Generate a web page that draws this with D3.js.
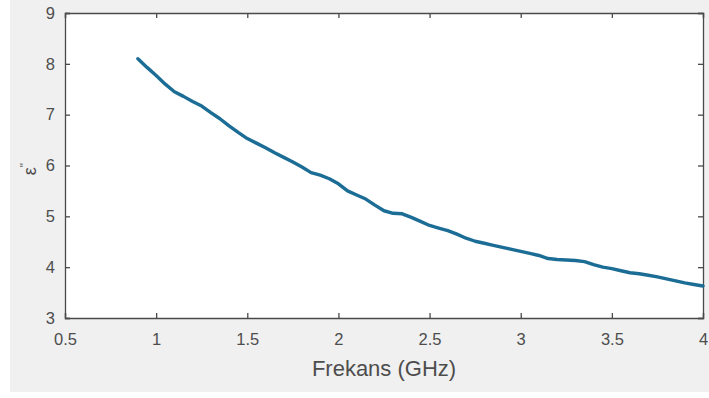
<!DOCTYPE html>
<html>
<head>
<meta charset="utf-8">
<script src="https://cdn.jsdelivr.net/npm/d3@7/dist/d3.min.js"></script>
<style>
  html, body { margin: 0; padding: 0; background: #ffffff; }
  svg { display: block; }
  text { font-family: "Liberation Sans", Arial, Helvetica, sans-serif; }
</style>
</head>
<body>
<svg id="chart" width="709" height="398"></svg>
<script>
// ---- data ----
const freqGHz = [0.9, 0.95, 1.0, 1.05, 1.1, 1.15, 1.2, 1.25, 1.3, 1.35, 1.4, 1.45, 1.5, 1.55, 1.6, 1.65, 1.7, 1.75, 1.8, 1.85, 1.9, 1.95, 2.0, 2.05, 2.1, 2.15, 2.2, 2.25, 2.3, 2.35, 2.4, 2.45, 2.5, 2.55, 2.6, 2.65, 2.7, 2.75, 2.8, 2.85, 2.9, 2.95, 3.0, 3.05, 3.1, 3.15, 3.2, 3.25, 3.3, 3.35, 3.4, 3.45, 3.5, 3.55, 3.6, 3.65, 3.7, 3.75, 3.8, 3.85, 3.9, 3.95, 4.0];
const epsImag = [8.10, 7.93, 7.77, 7.60, 7.45, 7.36, 7.26, 7.17, 7.04, 6.92, 6.78, 6.65, 6.53, 6.44, 6.35, 6.25, 6.16, 6.07, 5.97, 5.86, 5.81, 5.74, 5.64, 5.50, 5.42, 5.34, 5.22, 5.11, 5.06, 5.05, 4.98, 4.90, 4.82, 4.77, 4.72, 4.65, 4.57, 4.51, 4.47, 4.43, 4.39, 4.35, 4.31, 4.27, 4.23, 4.17, 4.15, 4.14, 4.13, 4.11, 4.05, 4.00, 3.97, 3.93, 3.89, 3.87, 3.84, 3.81, 3.77, 3.73, 3.69, 3.66, 3.63];
const xTicks = [0.5, 1, 1.5, 2, 2.5, 3, 3.5, 4];
const yTicks = [3, 4, 5, 6, 7, 8, 9];
const xDomain = [0.5, 4];
const yDomain = [3, 9];
const xLabel = "Frekans (GHz)";

// ---- layout ----
const svg = d3.select("#chart");
const L = 65, R = 703, T = 13, B = 318;
const axisColor = "#4a4a4a";
const textColor = "#4d4d4d";

svg.append("rect").attr("x", 10).attr("y", 0).attr("width", 699).attr("height", 392).attr("fill", "#f0f0f0");
svg.append("rect").attr("x", L).attr("y", T).attr("width", R - L).attr("height", B - T).attr("fill", "#ffffff");

const x = d3.scaleLinear().domain(xDomain).range([L, R]);
const y = d3.scaleLinear().domain(yDomain).range([B, T]);

const fmt = d => String(d);

// bottom axis
const gx = svg.append("g").attr("transform", `translate(0,${B})`)
  .call(d3.axisBottom(x).tickValues(xTicks).tickSize(-5).tickPadding(15).tickFormat(fmt));
// top axis (ticks only)
const gxt = svg.append("g").attr("transform", `translate(0,${T})`)
  .call(d3.axisTop(x).tickValues(xTicks).tickSize(-5).tickFormat(""));
// left axis
const gy = svg.append("g").attr("transform", `translate(${L},0)`)
  .call(d3.axisLeft(y).tickValues(yTicks).tickSize(-5).tickPadding(10).tickFormat(fmt));
// right axis (ticks only)
const gyr = svg.append("g").attr("transform", `translate(${R},0)`)
  .call(d3.axisRight(y).tickValues(yTicks).tickSize(-5).tickFormat(""));

[gx, gxt, gy, gyr].forEach(g => {
  g.select(".domain").attr("stroke", axisColor).attr("stroke-width", 1.3);
  g.selectAll(".tick line").attr("stroke", axisColor).attr("stroke-width", 1.3);
  g.selectAll(".tick text").attr("fill", textColor).attr("font-size", 16.5)
    .attr("font-family", '"Liberation Sans", Arial, sans-serif');
});

// data line
const line = d3.line().x((d, i) => x(freqGHz[i])).y(d => y(d));
svg.append("path").datum(epsImag)
  .attr("d", line)
  .attr("fill", "none")
  .attr("stroke", "#1c6d95")
  .attr("stroke-width", 3.4)
  .attr("stroke-linejoin", "round")
  .attr("stroke-linecap", "round");

// x label
svg.append("text").attr("x", 384).attr("y", 376)
  .attr("text-anchor", "middle").attr("font-size", 22).attr("fill", textColor)
  .text(xLabel);

// y label: epsilon double-prime
const yl = svg.append("text")
  .attr("transform", `translate(36,169) rotate(-90)`)
  .attr("text-anchor", "middle").attr("font-size", 18).attr("fill", textColor);
yl.append("tspan").text("\u03B5");
yl.append("tspan").attr("dy", -7).attr("font-size", 12).text("\"");
</script>
</body>
</html>
